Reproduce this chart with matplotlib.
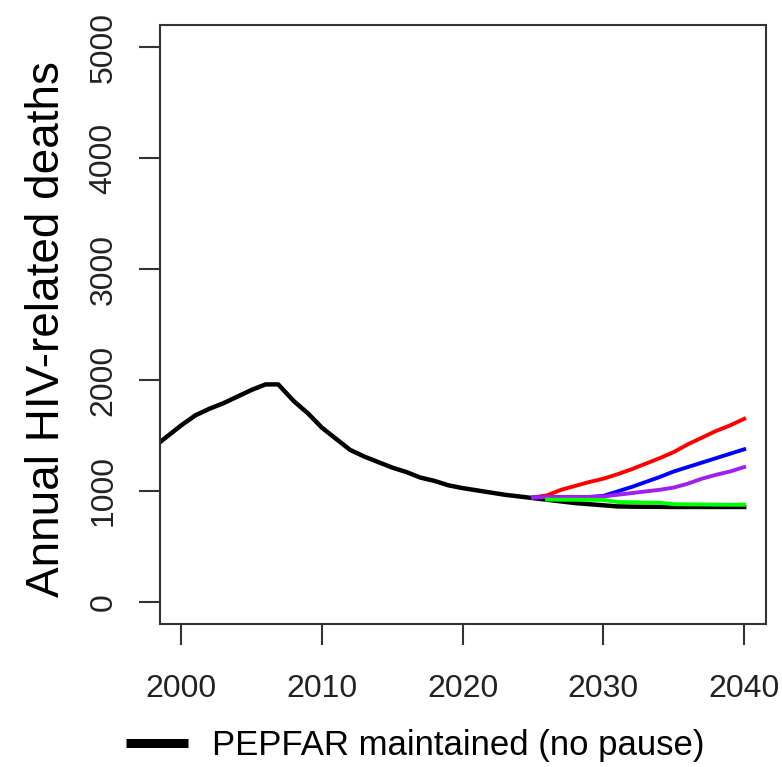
import matplotlib
matplotlib.use("Agg")
import matplotlib.pyplot as plt
from matplotlib.lines import Line2D

plt.rcParams['font.family'] = ['Liberation Sans', 'DejaVu Sans']

# Baseline: PEPFAR maintained (no pause)
years_base = [1998.5, 2000, 2001, 2002, 2003, 2004, 2005, 2006, 2006.9, 2008,
              2009, 2010, 2011, 2012, 2013, 2014, 2015, 2016, 2017, 2018,
              2019, 2020, 2021, 2022, 2023, 2024, 2025, 2026, 2027, 2028,
              2029, 2030, 2031, 2032, 2033, 2034, 2035, 2036, 2037, 2038,
              2039, 2040]
deaths_base = [1440, 1590, 1680, 1740, 1790, 1850, 1910, 1960, 1960, 1810,
               1700, 1570, 1470, 1370, 1310, 1260, 1210, 1170, 1120, 1090,
               1050, 1025, 1005, 985, 965, 950, 935, 920, 905, 890,
               880, 870, 860, 858, 857, 856, 855, 855, 855, 855,
               855, 855]

# Scenario projections
years_scen = list(range(2025, 2041))
deaths_red = [940, 960, 1010, 1045, 1080, 1110, 1150, 1195, 1245, 1295,
              1350, 1420, 1480, 1540, 1590, 1650]
deaths_blue = [940, 945, 945, 945, 945, 955, 995, 1035, 1080, 1125,
               1175, 1215, 1255, 1295, 1335, 1375]
deaths_purple = [940, 945, 945, 945, 945, 950, 965, 980, 995, 1010,
                 1030, 1065, 1110, 1145, 1175, 1215]
years_green = list(range(2026, 2041))
deaths_green = [922, 920, 920, 920, 918, 900, 897, 895, 893,
                880, 878, 877, 876, 875, 875]

x_ticks = [2000, 2010, 2020, 2030, 2040]
y_ticks = [0, 1000, 2000, 3000, 4000, 5000]

W, H = 782, 767
fig = plt.figure(figsize=(W / 100, H / 100), dpi=100)
ax = fig.add_axes([160 / W, 1 - 624 / H, (766 - 160) / W, (624 - 25) / H])

ax.plot(years_base, deaths_base, color="black", lw=3.2)
ax.plot(years_scen, deaths_red, color="#FF0000", lw=2.8)
ax.plot(years_scen, deaths_blue, color="#0000FF", lw=2.8)
ax.plot(years_scen, deaths_purple, color="#A020F0", lw=2.8)
ax.plot(years_green, deaths_green, color="#00FF00", lw=2.8)

ax.set_xlim(1998.5, 2041.55)
ax.set_ylim(-200, 5200)
ax.set_xticks(x_ticks)
ax.set_yticks(y_ticks)
ax.set_yticklabels([str(v) for v in y_ticks], rotation=90, va="center")

for s in ax.spines.values():
    s.set_linewidth(1.5)
    s.set_color("#333333")
ax.tick_params(axis="both", length=15, width=1.5, color="#333333",
               labelsize=23, labelcolor="#222222")
ax.tick_params(axis="x", pad=21)
ax.tick_params(axis="y", pad=15)

fig.text(47 / W, 1 - 329 / H, "Annual HIV-related deaths", rotation=90,
         ha="center", va="center", fontsize=33, color="black")

handle = Line2D([], [], color="black", lw=6.5, solid_capstyle="butt")
fig.legend([handle], ["PEPFAR maintained (no pause)"], loc="center left",
           bbox_to_anchor=(126 / W, 1 - 746 / H), frameon=False,
           fontsize=25, borderpad=0, borderaxespad=0,
           handlelength=1.78, handletextpad=0.69)

fig.savefig("out.png", dpi=100)
